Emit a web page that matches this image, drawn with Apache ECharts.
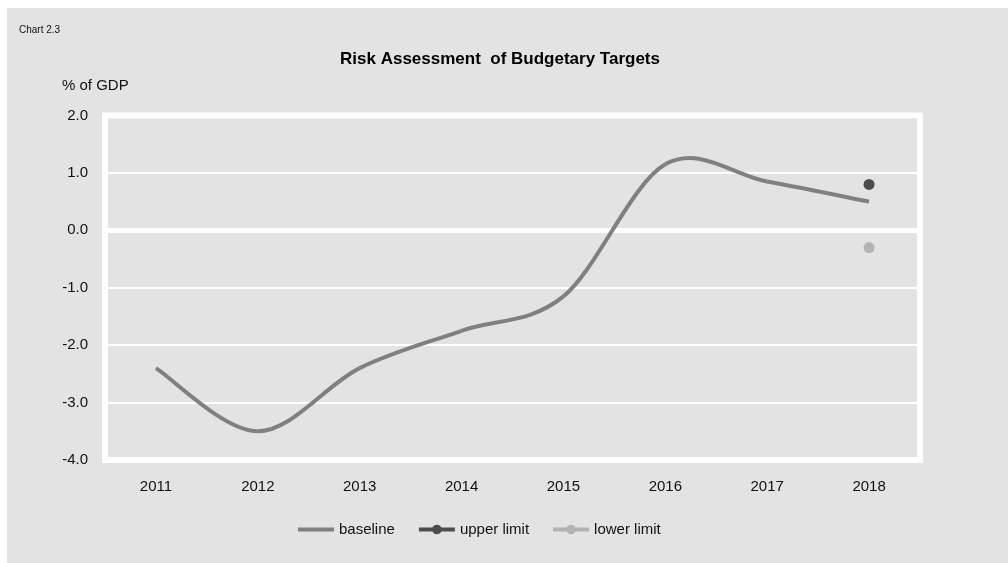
<!DOCTYPE html>
<html>
<head>
<meta charset="utf-8">
<script src="https://cdn.jsdelivr.net/npm/echarts@6/dist/echarts.min.js"></script>
<style>
  html, body { margin: 0; padding: 0; background: #fff; }
  #wrap { position: relative; width: 1008px; height: 563px; background: #fff; overflow: hidden; }
  #chart { position: absolute; left: 7px; top: 8px; width: 1001px; height: 555px; }
</style>
</head>
<body>
<div id="wrap"><div id="chart"></div></div>
<script>
var years = ['2011', '2012', '2013', '2014', '2015', '2016', '2017', '2018'];
var baseline = [-2.4, -3.5, -2.4, -1.75, -1.15, 1.15, 0.85, 0.5];
var upperLimit = [null, null, null, null, null, null, null, 0.8];
var lowerLimit = [null, null, null, null, null, null, null, -0.3];
var yTicks = [-4, -3, -2, -1, 0, 1, 2];

chart01();
function chart01(){
  var myChart = echarts.init(document.getElementById('chart'));
  var font = 'Arial, "Liberation Sans", sans-serif';

  // Excel-like smoothed line (Catmull-Rom through the data points)
  function renderSmooth(params, api) {
    if (params.dataIndex !== 0) return null;
    var pts = baseline.map(function (v, i) { return api.coord([i, v]); });
    var n = pts.length;
    var children = [];
    for (var i = 0; i < n - 1; i++) {
      var p0 = pts[Math.max(i - 1, 0)];
      var p1 = pts[i];
      var p2 = pts[i + 1];
      var p3 = pts[Math.min(i + 2, n - 1)];
      children.push({
        type: 'bezierCurve',
        shape: {
          x1: p1[0], y1: p1[1],
          cpx1: p1[0] + (p2[0] - p0[0]) / 6, cpy1: p1[1] + (p2[1] - p0[1]) / 6,
          cpx2: p2[0] - (p3[0] - p1[0]) / 6, cpy2: p2[1] - (p3[1] - p1[1]) / 6,
          x2: p2[0], y2: p2[1]
        },
        style: { stroke: '#808080', lineWidth: 4, fill: null }
      });
    }
    return { type: 'group', children: children };
  }

  var option = {
    backgroundColor: '#e3e3e3',
    animation: false,
    textStyle: { fontFamily: font },
    title: {
      text: 'Risk Assessment  of Budgetary Targets',
      left: 488,
      top: 38,
      textAlign: 'center',
      textStyle: { fontSize: 17, fontWeight: 'bold', color: '#000', fontFamily: font }
    },
    graphic: [
      { type: 'text', left: 12, top: 17, style: { text: 'Chart 2.3', fill: '#111', font: '10px ' + font } },
      { type: 'text', left: 55, top: 70, style: { text: '% of GDP', fill: '#111', font: '15px ' + font } }
    ],
    legend: {
      left: 286,
      top: 509,
      itemWidth: 36,
      itemHeight: 12,
      itemGap: 22,
      symbolKeepAspect: true,
      textStyle: { fontSize: 15, color: '#111', fontFamily: font },
      data: [
        { name: 'baseline', icon: 'path://M0,0 L36,0 L36,4 L0,4 Z' },
        { name: 'upper limit', lineStyle: { width: 4 } },
        { name: 'lower limit', lineStyle: { width: 4 } }
      ]
    },
    grid: {
      left: 98, right: 88, top: 107.5, bottom: 103,
      show: true, backgroundColor: 'transparent',
      borderColor: '#ffffff', borderWidth: 6
    },
    xAxis: [
      {
        type: 'category',
        data: years,
        boundaryGap: true,
        axisLine: { show: false },
        axisTick: { show: false },
        axisLabel: { margin: 19, fontSize: 15, color: '#111' },
        splitLine: { show: false }
      },
      {
        type: 'category',
        data: years,
        position: 'bottom',
        axisLine: { show: true, onZero: true, onZeroAxisIndex: 0, lineStyle: { color: '#ffffff', width: 5 } },
        axisTick: { show: false },
        axisLabel: { show: false },
        splitLine: { show: false }
      }
    ],
    yAxis: {
      type: 'value',
      min: yTicks[0],
      max: yTicks[yTicks.length - 1],
      interval: 1,
      axisLine: { show: false },
      axisTick: { show: false },
      axisLabel: {
        margin: 17, fontSize: 15, color: '#111',
        formatter: function (v) { return v.toFixed(1); }
      },
      splitLine: { lineStyle: { color: '#ffffff', width: 2 } }
    },
    series: [
      {
        name: 'baseline',
        type: 'custom',
        coordinateSystem: 'cartesian2d',
        xAxisIndex: 0,
        yAxisIndex: 0,
        clip: false,
        data: baseline.map(function (v, i) { return [i, v]; }),
        encode: { x: 0, y: 1 },
        renderItem: renderSmooth,
        itemStyle: { color: '#808080' }
      },
      {
        name: 'upper limit',
        type: 'line',
        data: upperLimit,
        symbol: 'circle',
        symbolSize: 11,
        lineStyle: { color: '#4d4d4d', width: 4 },
        itemStyle: { color: '#4d4d4d' }
      },
      {
        name: 'lower limit',
        type: 'line',
        data: lowerLimit,
        symbol: 'circle',
        symbolSize: 11,
        lineStyle: { color: '#b3b3b3', width: 4 },
        itemStyle: { color: '#b3b3b3' }
      }
    ]
  };
  myChart.setOption(option);
}
</script>
</body>
</html>
